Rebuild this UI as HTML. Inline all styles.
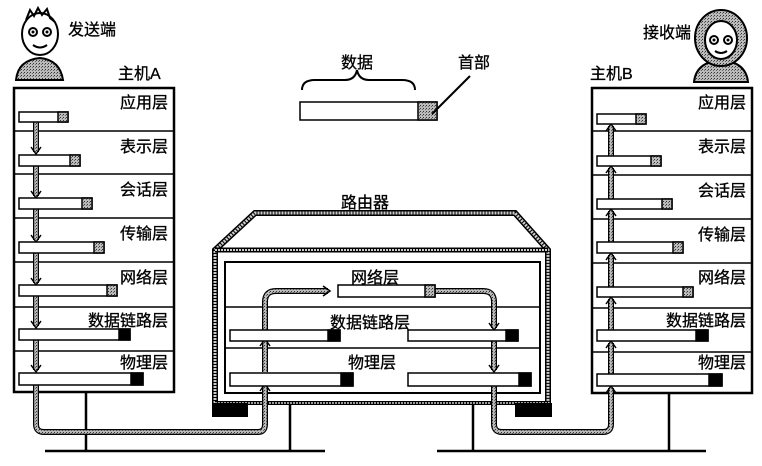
<!DOCTYPE html>
<html><head><meta charset="utf-8"><style>
html,body{margin:0;padding:0;background:#fff;}
svg{display:block;}
text{font-family:"Liberation Sans","Noto Sans CJK SC",sans-serif;fill:#000;stroke:#000;stroke-width:0.3;}
</style></head><body>
<svg width="762" height="466" viewBox="0 0 762 466" xmlns="http://www.w3.org/2000/svg">
<defs>
<pattern id="hat" width="3" height="3" patternUnits="userSpaceOnUse">
<rect width="3" height="3" fill="#bbb"/><rect width="1" height="1" fill="#333"/><rect x="2" y="1" width="1" height="1" fill="#666"/>
</pattern>
</defs>

<g stroke="#000" stroke-width="2.5" fill="none">
<line x1="45" y1="451" x2="325" y2="451"/>
<line x1="437" y1="451" x2="706" y2="451"/>
<line x1="86" y1="392" x2="86" y2="451"/>
<line x1="290" y1="403" x2="290" y2="451"/>
<line x1="473" y1="403" x2="473" y2="451"/>
<line x1="669" y1="393" x2="669" y2="451"/>
</g>

<path d="M215,403 L215,250 L255,213 L515,213 L548,250 L548,403" fill="none" stroke="#000" stroke-width="6"/>
<path d="M215,403 L215,250 L255,213 L515,213 L548,250 L548,403" fill="none" stroke="#ccc" stroke-width="3" stroke-dasharray="2 1"/>
<line x1="215" y1="250" x2="548" y2="250" stroke="#000" stroke-width="5"/>
<line x1="215" y1="250" x2="548" y2="250" stroke="#ccc" stroke-width="2" stroke-dasharray="2 1"/>
<line x1="215" y1="403" x2="548" y2="403" stroke="#000" stroke-width="4"/>
<line x1="215" y1="403" x2="548" y2="403" stroke="#ccc" stroke-width="1.5" stroke-dasharray="2 1"/>
<rect x="225" y="262" width="315" height="131" fill="#fff" stroke="#000" stroke-width="2"/>
<line x1="225" y1="307" x2="540" y2="307" stroke="#000" stroke-width="1.5"/>
<line x1="225" y1="348" x2="540" y2="348" stroke="#000" stroke-width="1.5"/>
<rect x="212" y="403" width="36" height="14" fill="#000"/>
<rect x="515" y="403" width="37" height="14" fill="#000"/>
<text x="365" y="208" font-size="16" text-anchor="middle">路由器</text>
<text x="375" y="283" font-size="16" text-anchor="middle">网络层</text>
<text x="370" y="328" font-size="16" text-anchor="middle">数据链路层</text>
<text x="372" y="368" font-size="16" text-anchor="middle">物理层</text>

<rect x="14" y="88" width="160" height="304" fill="#fff" stroke="#000" stroke-width="2.5"/>
<g stroke="#000" stroke-width="1.5">
<line x1="14" y1="131" x2="174" y2="131"/><line x1="14" y1="174" x2="174" y2="174"/>
<line x1="14" y1="218" x2="174" y2="218"/><line x1="14" y1="262" x2="174" y2="262"/>
<line x1="14" y1="307" x2="174" y2="307"/><line x1="14" y1="351" x2="174" y2="351"/>
</g>
<g font-size="16" text-anchor="end">
<text x="168" y="108">应用层</text><text x="168" y="152">表示层</text><text x="168" y="195">会话层</text>
<text x="168" y="239">传输层</text><text x="168" y="283">网络层</text><text x="168" y="326">数据链路层</text>
<text x="168" y="368">物理层</text>
</g>

<rect x="592" y="88" width="160" height="305" fill="#fff" stroke="#000" stroke-width="2.5"/>
<g stroke="#000" stroke-width="1.5">
<line x1="592" y1="131" x2="752" y2="131"/><line x1="592" y1="175" x2="752" y2="175"/>
<line x1="592" y1="219" x2="752" y2="219"/><line x1="592" y1="263" x2="752" y2="263"/>
<line x1="592" y1="308" x2="752" y2="308"/><line x1="592" y1="352" x2="752" y2="352"/>
</g>
<g font-size="16" text-anchor="end">
<text x="746" y="108">应用层</text><text x="746" y="152">表示层</text><text x="746" y="196">会话层</text>
<text x="746" y="240">传输层</text><text x="746" y="283">网络层</text><text x="746" y="326">数据链路层</text>
<text x="746" y="368">物理层</text>
</g>

<g fill="none" stroke-linejoin="round">
<g stroke="#000" stroke-width="6">
<path d="M36,385 L36,424 Q36,432 44,432 L258,432 Q265,432 265,424 L265,386"/>
<path d="M265,372 L265,341"/>
<path d="M265,330 L265,302 Q265,291 276,291 L328,291"/>
<path d="M435,291 L483,291 Q494,291 494,302 L494,328"/>
<path d="M494,341 L494,370"/>
<path d="M494,386 L494,424 Q494,432 502,432 L603,432 Q611,432 611,424 L611,388"/>
<path d="M611,374 L611,343"/><path d="M611,330 L611,299"/><path d="M611,287 L611,255"/>
<path d="M611,242 L611,211"/><path d="M611,199 L611,168"/><path d="M611,156 L611,126"/>
<path d="M36,122 L36,152"/><path d="M36,166 L36,196"/><path d="M36,209 L36,240"/>
<path d="M36,253 L36,283"/><path d="M36,296 L36,326"/><path d="M36,340 L36,370"/>
</g>
<g stroke="url(#hat)" stroke-width="3.5">
<path d="M36,385 L36,424 Q36,432 44,432 L258,432 Q265,432 265,424 L265,386"/>
<path d="M265,372 L265,341"/>
<path d="M265,330 L265,302 Q265,291 276,291 L328,291"/>
<path d="M435,291 L483,291 Q494,291 494,302 L494,328"/>
<path d="M494,341 L494,370"/>
<path d="M494,386 L494,424 Q494,432 502,432 L603,432 Q611,432 611,424 L611,388"/>
<path d="M611,374 L611,343"/><path d="M611,330 L611,299"/><path d="M611,287 L611,255"/>
<path d="M611,242 L611,211"/><path d="M611,199 L611,168"/><path d="M611,156 L611,126"/>
<path d="M36,122 L36,152"/><path d="M36,166 L36,196"/><path d="M36,209 L36,240"/>
<path d="M36,253 L36,283"/><path d="M36,296 L36,326"/><path d="M36,340 L36,370"/>
</g>
</g>
<g fill="none" stroke="#000" stroke-width="1.5">
<path d="M31,147 L36,154 L41,147"/><path d="M31,191 L36,198 L41,191"/><path d="M31,235 L36,242 L41,235"/>
<path d="M31,278 L36,285 L41,278"/><path d="M31,321 L36,328 L41,321"/><path d="M31,365 L36,372 L41,365"/>
<path d="M260,391 L265,384 L270,391"/><path d="M260,346 L265,339 L270,346"/>
<path d="M323,286 L330,291 L323,296"/>
<path d="M489,323 L494,330 L499,323"/><path d="M489,365 L494,372 L499,365"/>
<path d="M606,393 L611,386 L616,393"/><path d="M606,348 L611,341 L616,348"/><path d="M606,304 L611,297 L616,304"/>
<path d="M606,260 L611,253 L616,260"/><path d="M606,216 L611,209 L616,216"/><path d="M606,173 L611,166 L616,173"/>
<path d="M606,131 L611,124 L616,131"/>
</g>

<g stroke="#000" stroke-width="1.5">
<rect x="19" y="112" width="49" height="10" fill="#fff"/><rect x="58" y="112" width="10" height="10" fill="url(#hat)"/>
<rect x="19" y="155" width="61" height="11" fill="#fff"/><rect x="70" y="155" width="10" height="11" fill="url(#hat)"/>
<rect x="19" y="198" width="73" height="11" fill="#fff"/><rect x="82" y="198" width="10" height="11" fill="url(#hat)"/>
<rect x="19" y="242" width="85" height="11" fill="#fff"/><rect x="94" y="242" width="10" height="11" fill="url(#hat)"/>
<rect x="19" y="285" width="98" height="11" fill="#fff"/><rect x="107" y="285" width="10" height="11" fill="url(#hat)"/>
<rect x="19" y="329" width="111" height="11" fill="#fff"/><rect x="119" y="329" width="11" height="11" fill="#000"/>
<rect x="19" y="373" width="124" height="12" fill="#fff"/><rect x="131" y="373" width="12" height="12" fill="#000"/>
<rect x="338" y="285" width="97" height="12" fill="#fff"/><rect x="425" y="285" width="10" height="12" fill="url(#hat)"/>
<rect x="230" y="330" width="110" height="11" fill="#fff"/><rect x="328" y="330" width="12" height="11" fill="#000"/>
<rect x="408" y="330" width="110" height="11" fill="#fff"/><rect x="506" y="330" width="12" height="11" fill="#000"/>
<rect x="230" y="373" width="123" height="13" fill="#fff"/><rect x="341" y="373" width="12" height="13" fill="#000"/>
<rect x="408" y="373" width="123" height="13" fill="#fff"/><rect x="519" y="373" width="12" height="13" fill="#000"/>
<rect x="597" y="114" width="49" height="10" fill="#fff"/><rect x="636" y="114" width="10" height="10" fill="url(#hat)"/>
<rect x="597" y="156" width="64" height="10" fill="#fff"/><rect x="651" y="156" width="10" height="10" fill="url(#hat)"/>
<rect x="597" y="199" width="75" height="10" fill="#fff"/><rect x="662" y="199" width="10" height="10" fill="url(#hat)"/>
<rect x="597" y="242" width="86" height="11" fill="#fff"/><rect x="673" y="242" width="10" height="11" fill="url(#hat)"/>
<rect x="597" y="287" width="96" height="10" fill="#fff"/><rect x="683" y="287" width="10" height="10" fill="url(#hat)"/>
<rect x="597" y="330" width="111" height="11" fill="#fff"/><rect x="696" y="330" width="12" height="11" fill="#000"/>
<rect x="597" y="374" width="125" height="12" fill="#fff"/><rect x="709" y="374" width="13" height="12" fill="#000"/>
<rect x="300" y="102" width="137" height="18" fill="#fff"/><rect x="418" y="102" width="19" height="18" fill="url(#hat)"/>
</g>
<path d="M302,90 Q302,80 315,80 L345,80 Q355,80 357,70 Q359,80 369,80 L402,80 Q415,80 415,90" fill="none" stroke="#000" stroke-width="2"/>
<line x1="470" y1="76" x2="432" y2="114" stroke="#000" stroke-width="2"/>
<text x="357" y="68" font-size="16" text-anchor="middle">数据</text>
<text x="474" y="68" font-size="16" text-anchor="middle">首部</text>

<text x="68" y="35" font-size="16">发送端</text>
<text x="118" y="79" font-size="16">主机A</text>
<text x="643" y="38" font-size="16">接收端</text>
<text x="590" y="79" font-size="16">主机B</text>

<g stroke="#000" stroke-width="2">
<path d="M16,80 Q18,60 40,58 Q60,60 63,80 Z" fill="url(#hat)"/>
<ellipse cx="40" cy="34" rx="18" ry="21" fill="#fff"/>
<path d="M26,20 L30,10 L34,16 L38,8 L42,15 L47,9 L50,18 L55,22" fill="none"/>
<circle cx="33" cy="32" r="4" fill="#fff"/><circle cx="47" cy="32" r="4" fill="#fff"/>
<path d="M33,45 Q40,50 47,45" fill="none"/>
</g>
<circle cx="33" cy="32" r="1.5"/><circle cx="47" cy="32" r="1.5"/>
<g stroke="#000" stroke-width="2">
<path d="M694,82 Q696,62 721,60 Q746,62 748,82 Z" fill="url(#hat)"/>
<ellipse cx="721" cy="38" rx="26" ry="28" fill="url(#hat)"/>
<ellipse cx="721" cy="40" rx="16" ry="19" fill="#fff"/>
<circle cx="714" cy="40" r="4" fill="#fff"/><circle cx="728" cy="40" r="4" fill="#fff"/>
<path d="M715,51 Q721,55 727,51" fill="none"/>
</g>
<circle cx="714" cy="40" r="1.5"/><circle cx="728" cy="40" r="1.5"/>
</svg>
</body></html>
